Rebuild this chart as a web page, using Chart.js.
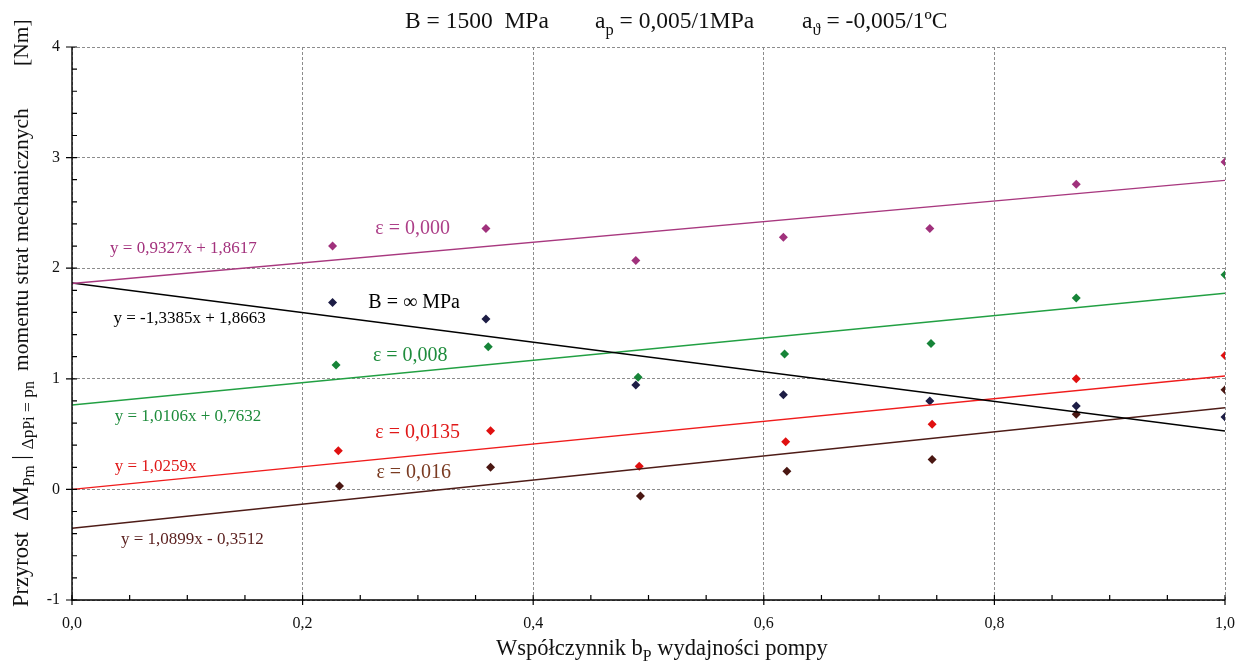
<!DOCTYPE html>
<html><head><meta charset="utf-8">
<script src="https://cdn.jsdelivr.net/npm/chart.js@4"></script>
<style>html,body{margin:0;padding:0;background:#fff}#wrap{width:1244px;height:661px}</style>
</head><body><div id="wrap"><canvas id="c"></canvas></div>
<script>
'use strict';
/* ═══════════ DATA ═══════════ */
var xB=[0.226,0.359,0.489,0.617,0.744,0.871,1.0];
var yEps0000=[2.20,2.36,2.07,2.28,2.36,2.76,2.96];
var yBinf=[1.69,1.54,0.945,0.855,0.80,0.755,0.655];
var xEps0008=[0.229,0.361,0.491,0.618,0.745,0.871,1.0];
var yEps0008=[1.125,1.29,1.015,1.225,1.32,1.73,1.94];
var xEps0135=[0.231,0.363,0.492,0.619,0.746,0.871,1.0];
var yEps0135=[0.35,0.53,0.21,0.43,0.59,1.00,1.21];
var xEps0160=[0.232,0.363,0.493,0.620,0.746,0.871,1.0];
var yEps0160=[0.03,0.20,-0.06,0.165,0.27,0.68,0.90];
/* trend line ends at x=0 and x=1 */
var trendX=[0,1];
var trend0000=[1.8617,2.7944];
var trendBinf=[1.8663,0.5278];
var trend0008=[0.7632,1.7738];
var trend0135=[0,1.0259];
var trend0160=[-0.3512,0.7387];

var SERIF="'Liberation Serif','DejaVu Serif',serif";
function pts(xs,ys){return xs.map(function(x,i){return{x:x,y:ys[i]}})}
function dots(xs,ys,col){return{type:'scatter',data:pts(xs,ys),pointStyle:'rectRot',pointRadius:4.5,backgroundColor:col,borderColor:col,borderWidth:0,showLine:false}}
function fit(ys,col){return{type:'line',data:pts(trendX,ys),borderColor:col,borderWidth:1.4,pointRadius:0,fill:false,tension:0}}

/* ═══════════ LABELS ═══════════ */
var notes=[
  {t:'y = 0,9327x + 1,8617',x:0.033,y:2.18,c:'#a3327d',s:17},
  {t:'ε = 0,000',x:0.263,y:2.36,c:'#ad3f88',s:20},
  {t:'B = ∞ MPa',x:0.257,y:1.69,c:'#000',s:20},
  {t:'y = -1,3385x + 1,8663',x:0.036,y:1.545,c:'#000',s:17},
  {t:'ε = 0,008',x:0.261,y:1.21,c:'#1e8c3c',s:20},
  {t:'y = 1,0106x + 0,7632',x:0.037,y:0.655,c:'#1e8c3c',s:17},
  {t:'ε = 0,0135',x:0.263,y:0.51,c:'#e01818',s:20},
  {t:'y = 1,0259x',x:0.037,y:0.21,c:'#e01818',s:17},
  {t:'ε = 0,016',x:0.264,y:0.15,c:'#7a3b22',s:20},
  {t:'y = 1,0899x - 0,3512',x:0.0425,y:-0.457,c:'#5a1f1e',s:17}
];

/* draw runs of text with optional subscripts; returns end x */
function runs(ctx,x,y,parts,size){
  parts.forEach(function(p){var fs=p.sub?size*0.7:(p.sm?size*0.78:size);
    ctx.font=fs+'px '+SERIF;var dy=p.sub?size*0.28:(p.sm?size*0.22:0);
    ctx.fillText(p.t,x,y+dy);x+=ctx.measureText(p.t).width});
  return x}

var deco={id:'deco',
  afterDatasetsDraw:function(ch){var ctx=ch.ctx,xs=ch.scales.x,ys=ch.scales.y;ctx.save();
    ctx.textBaseline='middle';ctx.textAlign='left';
    notes.forEach(function(n){ctx.fillStyle=n.c;ctx.font=n.s+'px '+SERIF;
      ctx.fillText(n.t,xs.getPixelForValue(n.x),ys.getPixelForValue(n.y))});
    ctx.restore()},
  afterDraw:function(ch){var ctx=ch.ctx,xs=ch.scales.x,ys=ch.scales.y,a=ch.chartArea;ctx.save();
    ctx.setLineDash([]);ctx.strokeStyle='#000';
    /* axis lines */
    ctx.lineWidth=1.4;ctx.beginPath();
    ctx.moveTo(a.left,a.top);ctx.lineTo(a.left,a.bottom);ctx.lineTo(a.right,a.bottom);ctx.stroke();
    /* ticks */
    ctx.lineWidth=1.2;ctx.beginPath();
    var v,p,maj;
    for(var i=0;i<=100;i+=5){v=i/100;p=xs.getPixelForValue(v);maj=i%20===0;
      ctx.moveTo(p,a.bottom-5);ctx.lineTo(p,a.bottom+(maj?5:0))}
    for(var j=-5;j<=20;j++){v=j/5;p=ys.getPixelForValue(v);maj=j%5===0;
      ctx.moveTo(a.left-(maj?6:0),p);ctx.lineTo(a.left+5,p)}
    ctx.stroke();
    ctx.fillStyle='#111';ctx.textBaseline='alphabetic';ctx.textAlign='left';
    /* title */
    runs(ctx,405,28,[{t:'B = 1500  MPa'}],23.5);
    runs(ctx,595,28,[{t:'a'},{t:'p',sub:1},{t:' = 0,005/1MPa'}],23.5);
    runs(ctx,802,28,[{t:'a'},{t:'ϑ',sub:1},{t:' = -0,005/1ºC'}],23.5);
    /* x label */
    runs(ctx,496,655,[{t:'Współczynnik b'},{t:'P',sub:1},{t:' wydajności pompy'}],22.5);
    /* y label */
    ctx.translate(28,0);ctx.rotate(-Math.PI/2);
    runs(ctx,-607,0,[{t:'Przyrost  ΔM'},{t:'Pm',sub:1},{t:' | '},{t:'Δp',sm:1},{t:'Pi',sub:1,sm:1},{t:' = p',sm:1},{t:'n',sub:1}],22.5);
    runs(ctx,-371,0,[{t:'momentu strat mechanicznych'}],21.5);
    runs(ctx,-66,0,[{t:'[Nm]'}],21.5);
    ctx.restore()}};

var grid={color:'#8c8c8c',lineWidth:1,drawTicks:false};
var edge={display:false,dash:[3,2]};
new Chart(document.getElementById('c'),{
  data:{datasets:[
    fit(trend0000,'#a8387f'),fit(trendBinf,'#000000'),fit(trend0008,'#22a043'),fit(trend0135,'#f01c1c'),fit(trend0160,'#4e1c17'),
    dots(xB,yEps0000,'#a0317c'),dots(xB,yBinf,'#1d1d45'),dots(xEps0008,yEps0008,'#168438'),
    dots(xEps0135,yEps0135,'#e01010'),dots(xEps0160,yEps0160,'#4a1712')]},
  options:{responsive:true,maintainAspectRatio:false,animation:false,
    layout:{padding:{left:0,top:47,right:19,bottom:0}},
    plugins:{legend:{display:false},tooltip:{enabled:false}},
    scales:{
      x:{type:'linear',min:0,max:1,grid:grid,border:edge,
        ticks:{stepSize:0.2,padding:14,color:'#111',font:{family:SERIF,size:16},maxRotation:0,
          callback:function(v){return v.toFixed(1).replace('.',',')}},
        afterFit:function(s){s.height=61;s.paddingRight=0;s.paddingLeft=0}},
      y:{type:'linear',min:-1,max:4,grid:grid,border:edge,
        ticks:{stepSize:1,padding:12,color:'#111',font:{family:SERIF,size:16},
          callback:function(v){return String(v)}},
        afterFit:function(s){s.width=72;s.paddingTop=0;s.paddingBottom=0}}}},
  plugins:[deco]});
</script></body></html>
